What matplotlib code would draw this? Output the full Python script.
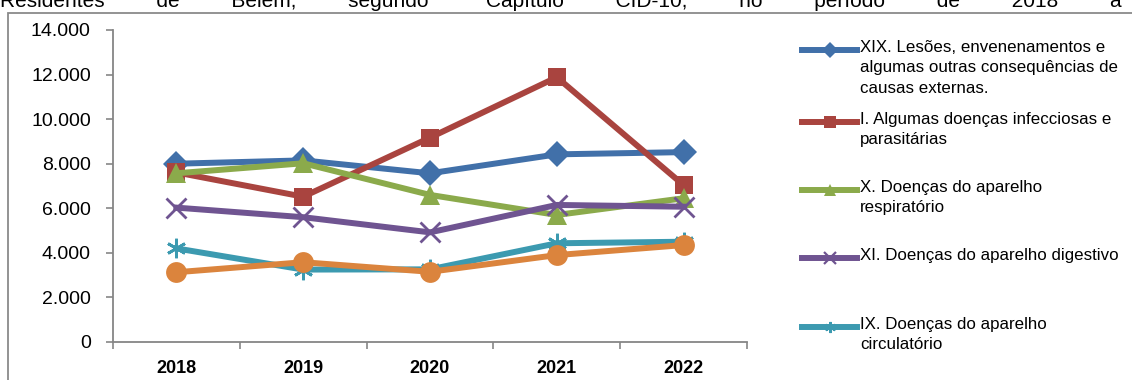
import matplotlib
matplotlib.use('Agg')
import matplotlib.pyplot as plt
from matplotlib.lines import Line2D
from matplotlib.patches import Rectangle
from matplotlib.ticker import FuncFormatter, FixedLocator

plt.rcParams['font.family'] = ['Liberation Sans', 'DejaVu Sans']

W, H = 1132, 380

# dados
anos = ['2018', '2019', '2020', '2021', '2022']
lesoes = [8000, 8150, 7570, 8420, 8520]
infecciosas = [7610, 6520, 9170, 11880, 7040]
respiratorio = [7570, 8020, 6600, 5700, 6450]
digestivo = [6030, 5600, 4920, 6150, 6070]
circulatorio = [4200, 3250, 3260, 4430, 4500]
outro = [3130, 3580, 3150, 3900, 4350]

nomes = ['XIX. Lesões, envenenamentos e\nalgumas outras consequências de\ncausas externas.',
         'I. Algumas doenças infecciosas e\nparasitárias',
         'X. Doenças do aparelho\nrespiratório',
         'XI. Doenças do aparelho digestivo',
         'IX. Doenças do aparelho\ncirculatório']

titulo = 'Residentes de Belém, segundo Capítulo CID-10, no período de 2018 a'

series = [lesoes, infecciosas, respiratorio, digestivo, circulatorio, outro]
cores = ['#4170A9', '#A9443F', '#8BAA4B', '#6F5491', '#3C9AB0', '#DB843D']
marcas = ['D', 's', '^', 'x', '*', 'o']
tamanhos = [13, 13, 14, 14, 14, 15]

fig = plt.figure(figsize=(W / 100, H / 100), dpi=100)
ax = fig.add_axes([113 / W, 1 - 342 / H, (747 - 113) / W, (342 - 30) / H])

x = list(range(len(anos)))
for i, s in enumerate(series):
    m = marcas[i]
    kw = dict(color=cores[i], lw=4.3, marker=m, markersize=tamanhos[i], zorder=3 + i * 0.1)
    if m in ('x', '*'):
        kw.update(markeredgewidth=2, markeredgecolor=cores[i])
        if m == '*':
            kw['marker'] = (6, 2, 0)
    else:
        kw.update(markeredgewidth=0)
    ax.plot(x, s, **kw)

ax.set_xlim(-0.5, len(anos) - 0.5)
ax.set_ylim(0, 14000)
ax.set_yticks(range(0, 14001, 2000))
ax.yaxis.set_major_formatter(FuncFormatter(lambda v, p: f'{int(v):,}'.replace(',', '.')))
ax.set_xticks(x)
ax.set_xticklabels(anos, fontweight='bold', fontsize=13)
ax.xaxis.set_minor_locator(FixedLocator([i - 0.5 for i in range(len(anos) + 1)]))
ax.tick_params(axis='x', which='major', length=0, pad=13)
ax.tick_params(axis='x', which='minor', length=5, color='#868686', width=1.2)
ax.tick_params(axis='y', length=5, color='#868686', width=1.2, labelsize=14, pad=11)
for s in ['top', 'right']:
    ax.spines[s].set_visible(False)
for s in ['left', 'bottom']:
    ax.spines[s].set_color('#868686')
    ax.spines[s].set_linewidth(1.3)

# legenda desenhada a mao
ys = [50, 122, 190, 258, 327]
for i, nome in enumerate(nomes):
    y = 1 - ys[i] / H
    m = marcas[i] if marcas[i] != '*' else (6, 2, 0)
    fig.add_artist(Line2D([802 / W, 857 / W], [y, y], color=cores[i], lw=4.3))
    fig.add_artist(Line2D([829.5 / W], [y], color=cores[i], marker=m, markersize=8,
                          markeredgewidth=1.6 if marcas[i] in ('x', '*') else 0,
                          markeredgecolor=cores[i]))
    fig.text(860 / W, y + 10 / H, nome, fontsize=12.2, va='top', ha='left', linespacing=1.45)

# moldura e titulo cortado
fig.add_artist(Rectangle((8 / W, -0.1), 2, 1.1 - 13 / H, fill=False, ec='#8a8a8a', lw=1.3,
                         transform=fig.transFigure))

# titulo justificado: espacos extras entre as palavras
palavras = titulo.split(' ')
r = fig.canvas.get_renderer()
tmp = fig.text(0, 0, palavras[0], fontsize=15)
def largura(s):
    tmp.set_text(s)
    return tmp.get_window_extent(r).width
esp = largura('a a') - largura('aa')
larg = [largura(p) for p in palavras]
tmp.remove()
gap = (1124 - sum(larg)) / (len(palavras) - 1)
linha = palavras[0]
alvo = larg[0]
atual = larg[0]
for p, w in zip(palavras[1:], larg[1:]):
    alvo += gap
    n = max(1, round((alvo - atual) / esp))
    linha += ' ' * n + p
    atual += n * esp + w
    alvo += w
fig.text(0, 1 - 7 / H, linha, fontsize=15, va='baseline', ha='left')

fig.savefig('out.png', dpi=100)
